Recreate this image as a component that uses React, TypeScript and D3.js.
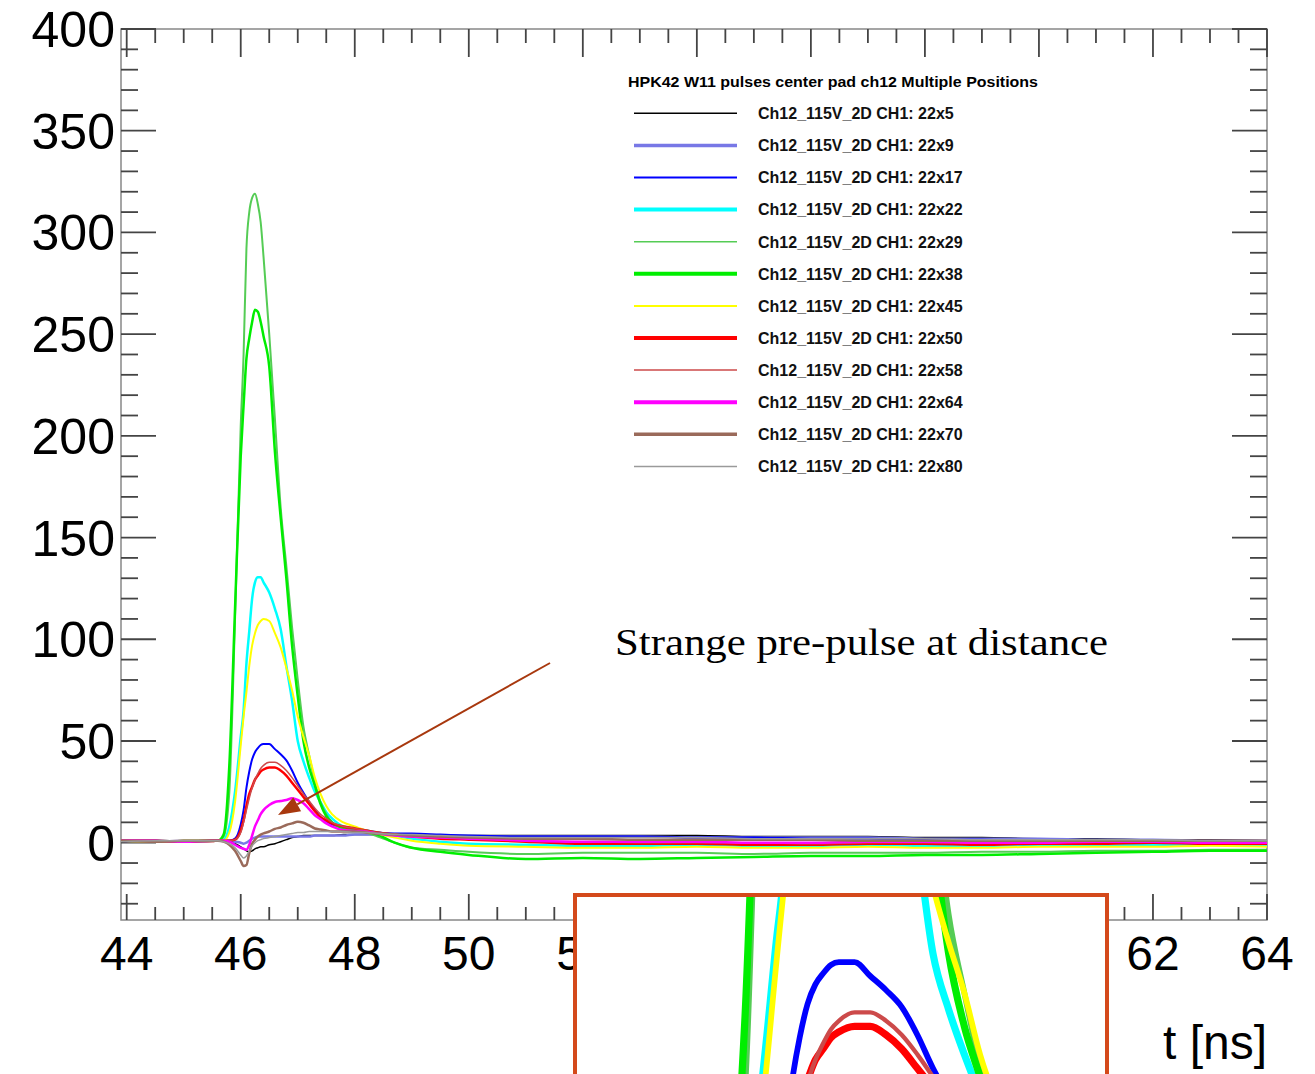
import React from 'react';
import * as d3 from 'd3';

// time grid (ns)
const T = [43.9, 44.5, 45.0, 45.5, 45.6, 45.7, 45.8, 45.9, 46.0, 46.05, 46.1, 46.15, 46.2, 46.25, 46.3, 46.35, 46.4,
  46.5, 46.6, 46.7, 46.8, 46.9, 47.0, 47.1, 47.2, 47.3, 47.4, 47.5, 47.6, 47.8, 48.0, 48.2, 48.4, 48.7, 49.0, 49.5, 50.0,
  51, 52, 53, 54, 55, 56, 57, 58, 59, 60, 61, 62, 63, 64];

const v22x5 = [0.5, 1, 0.5, 1, 1, 1, 0.5, -0.5, -2, -3, -4, -4.5, -4, -3, -2.5, -2, -2,
  -1, -0.5, 0.5, 1.5, 2.5, 3, 3.5, 3.5, 3.5, 3.5, 3.5, 3.5, 4, 4, 4, 4, 3.5, 3.5, 3.5, 3.5,
  3.5, 3.5, 3.5, 3.5, 3, 3, 3, 2.5, 2.5, 2, 2, 1.5, 1.5, 1];
const v22x9 = [1, 0.5, 1, 1, 1, 1, 1, 0.5, 0, -0.5, 0, 1, 2, 2.5, 3, 3, 3,
  3, 3, 3, 3, 3, 3, 3, 3, 3.5, 3.5, 3.5, 3.5, 3.5, 4, 4, 4, 3.5, 3.5, 3.5, 3,
  3, 3, 3, 2.5, 2.5, 2.5, 2.5, 2, 2, 2, 1.5, 1.5, 1, 1];
const v22x17 = [1, 1, 0.5, 1, 1, 1, 1, 2, 9, 16, 27, 35, 41, 44.5, 46.5, 48, 48.5,
  48.5, 46, 43.5, 40.5, 35.5, 29.5, 24.5, 20, 16, 12.5, 10.5, 9, 7.5, 7, 6, 5, 4.5, 4.5, 4, 3.5,
  3, 3, 3, 2.5, 2.5, 2, 2, 1.5, 1.5, 1, 1, 1, 0.5, 0.5];
const v22x22 = [1, 1, 0.5, 1, 1, 1.5, 8, 25, 52, 65, 88, 104, 120, 128, 130.5, 130.5, 128,
  123, 115, 105, 87, 70, 50, 40, 32, 25, 20, 15, 12, 8, 7, 6, 5, 3.5, 2, 0.5, -0.5,
  -1, -1.5, -1.5, -1, -1.5, -1.5, -1, -1.5, -1.5, -1, -1.5, -1, -1, -1];
const v22x29 = [1, 0.5, 1, 1, 1, 3, 25, 110, 205, 240, 292, 310, 317, 319, 314, 305, 288,
  250, 208, 165, 136, 106, 80, 57, 43, 30, 20, 14, 10, 7, 6, 5, 3, 0, -2.5, -3.5, -4.5,
  -5.5, -5, -5, -5, -5.5, -5, -5, -5, -4.5, -4.5, -4, -4, -3.5, -3.5];
const v22x38 = [1, 1, 0.5, 1, 1, 4, 38, 115, 190, 215, 238, 248, 256, 262, 261, 256, 249,
  234, 192, 160, 130, 97, 72, 50, 37, 28, 19, 13, 10, 7, 6, 5.5, 4, 0, -2.5, -4.5, -6,
  -8, -7.5, -8, -7.5, -7, -6.5, -6.5, -6, -6, -5.5, -5, -4.5, -4, -4];
const v22x45 = [1, 0.5, 1, 1, 1, 1, 5, 20, 48, 62, 74, 87, 97, 103, 107, 109, 110,
  109, 103, 96, 86, 75, 62, 52, 43, 32, 24, 18, 14, 10, 8, 6, 4.5, 2.5, 1, -0.5, -1.5,
  -2, -2.5, -2.5, -2, -2.5, -2.5, -2, -2.5, -2.5, -2, -2, -2, -1.5, -2];
const v22x50 = [1, 1, 0.5, 1, 1, 1, 1, 1.5, 6, 11, 18, 24, 27.5, 31, 33, 35, 36,
  37, 37, 35.5, 33, 29.5, 26, 22.5, 19, 15.5, 12.5, 11, 9.5, 8, 7, 6, 5, 4, 3, 2, 1.5,
  0.5, -0.5, -0.5, -0.5, -1, -1, -0.5, -0.5, -1, -0.5, -0.5, 0, -0.5, -0.5];
const v22x58 = [1, 1, 1, 0.5, 1, 1, 1, 1.5, 5, 10, 16, 22, 27, 31, 34, 36.5, 38,
  39.5, 39.5, 38, 35.5, 32, 28, 24, 20.5, 17, 14, 12, 10, 8, 7, 6, 5, 4, 3.5, 2.5, 2,
  1, 0.5, 0, 0, 0, -0.5, 0, 0, 0, 0, 0.5, 0.5, 0, 0];
const v22x64 = [1, 1, 0.5, 1, 1, 1, 0.5, -1, -2.5, -3, -3.5, -1, 3.5, 8, 11, 14, 16,
  18.5, 20, 20.5, 21, 21.8, 21, 19.4, 16.5, 13.5, 11.5, 9.5, 8, 6.2, 5.8, 5.4, 4.5, 3.5, 3, 2.5, 2,
  1, 0.5, 0.5, 0.5, 0, 0, 0.5, 0.5, 0, 0, 0.5, 0.5, 0, 0];
const v22x70 = [1, 0.5, 1, 1, 1, 0.5, -1, -4, -9, -11.5, -11, -5, -0.5, 1.5, 3, 4, 4.6,
  5.5, 6.8, 7.5, 8.7, 9.5, 10.3, 9.8, 8.5, 7, 6.5, 6, 5.5, 5.5, 5.5, 5, 4.5, 4, 3.5, 3, 2.5,
  2, 2, 1.5, 1.5, 1.5, 1.5, 1, 1, 1, 1, 1, 1, 1, 1];
const v22x80 = [0.5, 1, 1, 1, 1, 0.5, -0.5, -2.5, -6, -7.5, -6.5, -4, -1.5, 0, 1, 1.5, 2,
  2.5, 3, 3.5, 4, 4.5, 5, 5, 5.5, 5.5, 5.5, 5.5, 5.5, 5.5, 5, 5, 4.5, 4, 4, 3.5, 3,
  2.5, 2.5, 2.5, 2.5, 2, 2, 2, 2, 1.5, 1.5, 1.5, 1.5, 1, 1];

const seriesLabels = ['22x5', '22x9', '22x17', '22x22', '22x29', '22x38', '22x45', '22x50', '22x58', '22x64', '22x70', '22x80'];
const seriesValues = [v22x5, v22x9, v22x17, v22x22, v22x29, v22x38, v22x45, v22x50, v22x58, v22x64, v22x70, v22x80];
const seriesColors = ['#000000', '#7878e6', '#0000ff', '#00ffff', '#55cc55', '#00ee00', '#ffff00', '#ff0000', '#cc4a4a', '#ff00ff', '#9a6a5a', '#9a9a9a'];
const seriesWidths = [1.5, 2.5, 2, 2.5, 2, 2.5, 2, 2.5, 1.5, 2.5, 2.5, 1.5];
const legendWidths = [1.5, 3.5, 2, 4, 1.5, 4, 2, 4, 1.5, 4, 3.5, 1.5];

const legendTitle = 'HPK42 W11 pulses center pad ch12 Multiple Positions';
const legendPrefix = 'Ch12_115V_2D CH1: ';
const annotation = 'Strange pre-pulse at distance';
const xTitle = 't [ns]';

const W = 1315, H = 1074;
const X0 = 121, X1 = 1267, Y0 = 29, Y1 = 920;
const x = d3.scaleLinear().domain([43.9, 64]).range([X0, X1]);
const y = d3.scaleLinear().domain([-38, 400]).range([Y1, Y0]);

const K = 2.75; // inset magnification
const INSET_CX = 268.3, INSET_CY = 743.3, INSET_TX = 852, INSET_TY = 960;

export default function App() {
  const line = d3.line<number>()
    .x((_, i) => x(T[i]))
    .y((d) => y(d))
    .curve(d3.curveMonotoneX);

  const xMajor = d3.range(44, 64.001, 2);
  const xMinor = d3.range(44, 64.001, 0.5).filter((v) => Math.abs(v / 2 - Math.round(v / 2)) > 1e-6);
  const yMajor = d3.range(0, 400.001, 50);
  const yMinor = d3.range(-30, 400.001, 10).filter((v) => v % 50 !== 0);

  const tickColor = '#444';
  const font = '"Liberation Sans", Arial, Helvetica, sans-serif';

  const paths = seriesValues.map((vals, i) => (
    <path key={i} d={line(vals) || ''} fill="none" stroke={seriesColors[i]} strokeWidth={seriesWidths[i]} strokeLinejoin="round" />
  ));

  // arrow geometry
  const ax0 = 550, ay0 = 663, tipX = 278, tipY = 815;
  const dx = tipX - ax0, dy = tipY - ay0;
  const len = Math.hypot(dx, dy);
  const ux = dx / len, uy = dy / len;
  const hl = 22, hw = 8;
  const bx = tipX - ux * hl, by = tipY - uy * hl;
  const arrowHead = `${tipX},${tipY} ${bx - uy * hw},${by + ux * hw} ${bx + uy * hw},${by - ux * hw}`;

  const legendRow0 = 113.3, legendStep = 32.1;

  return (
    <svg width={W} height={H} style={{ position: 'absolute', left: 0, top: 0, background: '#fff' }} xmlns="http://www.w3.org/2000/svg">
      <defs>
        <clipPath id="plotClip"><rect x={X0} y={Y0} width={X1 - X0} height={Y1 - Y0} /></clipPath>
        <clipPath id="insetClip"><rect x={577} y={897} width={528} height={200} /></clipPath>
      </defs>
      <rect x={0} y={0} width={W} height={H} fill="#fff" />

      {/* frame */}
      <rect x={X0} y={Y0} width={X1 - X0} height={Y1 - Y0} fill="none" stroke="#888" strokeWidth={1.5} />

      {/* y ticks */}
      {yMajor.map((v) => (
        <g key={'ym' + v}>
          <line x1={X0} x2={X0 + 35} y1={y(v)} y2={y(v)} stroke={tickColor} strokeWidth={1.8} />
          <line x1={X1} x2={X1 - 35} y1={y(v)} y2={y(v)} stroke={tickColor} strokeWidth={1.8} />
        </g>
      ))}
      {yMinor.map((v) => (
        <g key={'yn' + v}>
          <line x1={X0} x2={X0 + 17} y1={y(v)} y2={y(v)} stroke={tickColor} strokeWidth={1.8} />
          <line x1={X1} x2={X1 - 17} y1={y(v)} y2={y(v)} stroke={tickColor} strokeWidth={1.8} />
        </g>
      ))}
      {/* x ticks */}
      {xMajor.map((v) => (
        <g key={'xm' + v}>
          <line x1={x(v)} x2={x(v)} y1={Y1} y2={Y1 - 26} stroke={tickColor} strokeWidth={1.8} />
          <line x1={x(v)} x2={x(v)} y1={Y0} y2={Y0 + 28} stroke={tickColor} strokeWidth={1.8} />
        </g>
      ))}
      {xMinor.map((v) => (
        <g key={'xn' + v}>
          <line x1={x(v)} x2={x(v)} y1={Y1} y2={Y1 - 13} stroke={tickColor} strokeWidth={1.8} />
          <line x1={x(v)} x2={x(v)} y1={Y0} y2={Y0 + 14} stroke={tickColor} strokeWidth={1.8} />
        </g>
      ))}

      {/* y labels */}
      {yMajor.map((v) => (
        <text key={'yl' + v} x={115} y={y(v)} dy="0.36em" textAnchor="end" fontFamily={font} fontSize={50} fill="#000">{v}</text>
      ))}
      {/* x labels */}
      {xMajor.map((v) => (
        <text key={'xl' + v} x={x(v)} y={970} textAnchor="middle" fontFamily={font} fontSize={48} fill="#000">{v}</text>
      ))}
      <text x={1267} y={1059} textAnchor="end" fontFamily={font} fontSize={48} fill="#000">{xTitle}</text>

      {/* data */}
      <g clipPath="url(#plotClip)">{paths}</g>

      {/* legend */}
      <text x={628} y={87} fontFamily={font} fontWeight="bold" fontSize={15} textLength={410} lengthAdjust="spacingAndGlyphs" fill="#000">{legendTitle}</text>
      {seriesLabels.map((lab, i) => {
        const ry = legendRow0 + i * legendStep;
        return (
          <g key={'lg' + i}>
            <line x1={634} x2={737} y1={ry} y2={ry} stroke={seriesColors[i]} strokeWidth={legendWidths[i]} />
            <text x={758} y={ry + 5.8} fontFamily={font} fontWeight="bold" fontSize={16} fill="#111">{legendPrefix + lab}</text>
          </g>
        );
      })}

      {/* annotation */}
      <text x={615} y={655} fontFamily='"Liberation Serif", "Times New Roman", serif' fontSize={38} textLength={493} lengthAdjust="spacingAndGlyphs" fill="#000">{annotation}</text>
      <line x1={ax0} y1={ay0} x2={bx} y2={by} stroke="#a8380e" strokeWidth={2} />
      <polygon points={arrowHead} fill="#a8380e" />

      {/* inset zoom */}
      <rect x={575} y={895} width={532} height={200} fill="#fff" stroke="#d4491b" strokeWidth={4} />
      <g clipPath="url(#insetClip)">
        <g transform={`translate(${INSET_TX - INSET_CX * K},${INSET_TY - INSET_CY * K}) scale(${K})`}>
          {seriesValues.map((vals, i) => (
            <path key={'in' + i} d={line(vals) || ''} fill="none" stroke={seriesColors[i]} strokeWidth={seriesWidths[i] * 1.05} strokeLinejoin="miter" />
          ))}
        </g>
      </g>
    </svg>
  );
}
